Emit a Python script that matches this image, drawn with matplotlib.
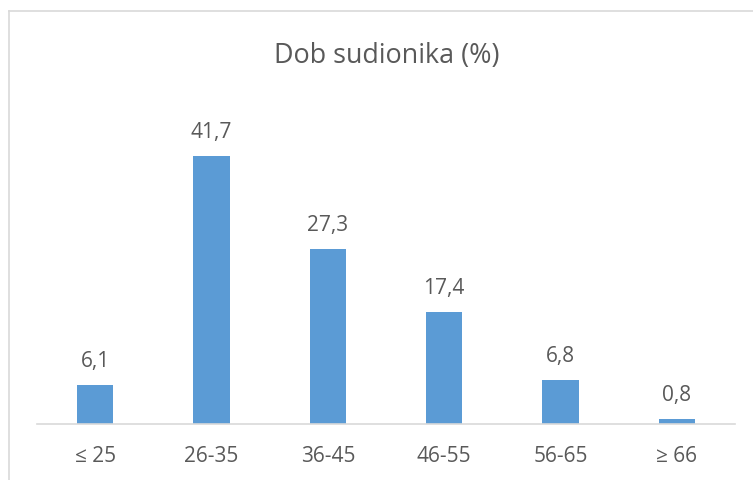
import matplotlib.pyplot as plt
from matplotlib.lines import Line2D

plt.rcParams['font.family'] = ['Open Sans', 'DejaVu Sans']

categories = ['≤ 25', '26-35', '36-45', '46-55', '56-65', '≥ 66']
values = [6.1, 41.7, 27.3, 17.4, 6.8, 0.8]
labels = ['6,1', '41,7', '27,3', '17,4', '6,8', '0,8']
title = 'Dob sudionika (%)'

W, H = 753, 480
fig = plt.figure(figsize=(W / 100, H / 100), dpi=100)

# plot area in pixels
left, right = 37, 735
base, top = 424, 135
ax = fig.add_axes([left / W, 1 - base / H, (right - left) / W, (base - top) / H])

x = range(len(categories))
ax.bar(x, values, width=0.31, color='#5B9BD5', zorder=2)
for xi, v, lab in zip(x, values, labels):
    ax.annotate(lab, (xi, v), xytext=(0, 13), textcoords='offset points',
                ha='center', va='baseline', fontsize=15, color='#595959')

ax.set_xlim(-0.5, len(categories) - 0.5)
ax.set_ylim(0, 45)
ax.set_xticks(list(x))
ax.set_xticklabels(categories, fontsize=15, color='#595959')
ax.tick_params(axis='x', length=0, pad=16)
ax.set_yticks([])
for s in ['top', 'right', 'left']:
    ax.spines[s].set_visible(False)
ax.spines['bottom'].set_color('#D9D9D9')
ax.spines['bottom'].set_linewidth(1.2)

fig.text(387 / W, 1 - 56 / H, title, ha='center', va='center',
         fontsize=19.4, color='#595959')

# chart frame (right and bottom edges fall outside the crop)
fig.add_artist(Line2D([8.5 / W, 8.5 / W], [0, 1 - 10.5 / H],
                      transform=fig.transFigure, color='#D9D9D9', lw=1.2))
fig.add_artist(Line2D([8.5 / W, 1], [1 - 10.5 / H, 1 - 10.5 / H],
                      transform=fig.transFigure, color='#D9D9D9', lw=1.2))

fig.savefig('out.png', dpi=100)
